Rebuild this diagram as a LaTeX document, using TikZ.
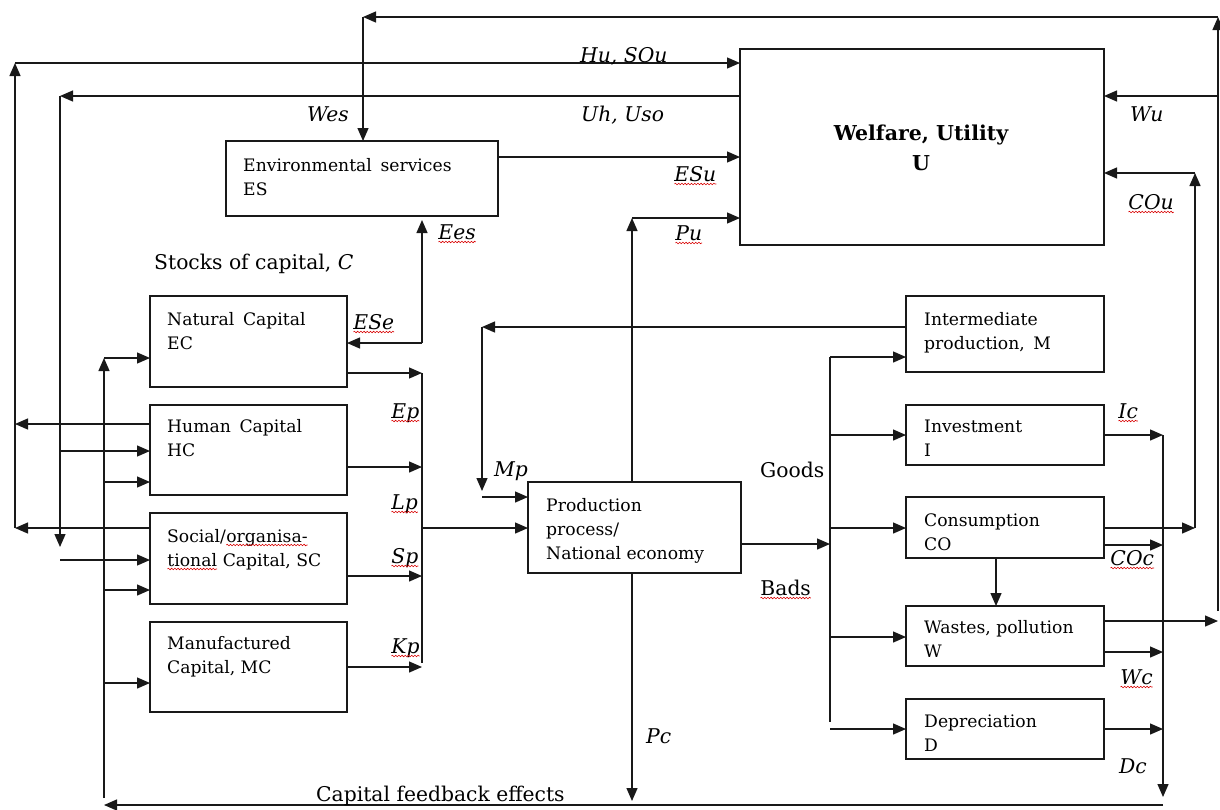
\documentclass[tikz,border=0pt]{standalone}
\usepackage{fontspec}
\setmainfont{DejaVu Serif}
\usetikzlibrary{arrows.meta,calc,decorations.pathmorphing}

% red wavy underline under a word, as left by a spell checker
\newcommand\spellwave[1]{\tikz[baseline=(sw.base)]{\node[inner sep=0pt,outer sep=0pt,anchor=base,draw=none](sw){#1};\draw[red!85!black,line width=0.55pt,decorate,decoration={snake,segment length=3.2pt,amplitude=0.8pt}]([yshift=-3pt]sw.base west)--([yshift=-3pt]sw.base east);}}

\newcommand\boxfont{\fontsize{17.2}{24}\selectfont}
\newcommand\labfont{\fontsize{20.3}{24}\selectfont}

\begin{document}
\begin{tikzpicture}[x=1pt,y=-1pt,
  box/.style={draw=black!90,line width=1.3pt,inner sep=0pt,outer sep=0pt,anchor=north west},
  ln/.style={draw=black!90,line width=1.3pt},
  ar/.style={ln,-{Triangle[length=13pt,width=11pt]}},
  boxtext/.style={inner sep=0pt,anchor=base west,align=left,font=\boxfont},
  lab/.style={inner sep=0pt,anchor=base west,font=\labfont\itshape},
  uplab/.style={inner sep=0pt,anchor=base west,font=\labfont},
]
\useasboundingbox[fill=white] (0,0) rectangle (1220,809);

% ---------- boxes ----------
\node[box,minimum width=364,minimum height=196] (U)  at (740,49)  {};
\node[box,minimum width=272,minimum height=75]  (ES) at (226,141) {};
\node[box,minimum width=197,minimum height=91]  (EC) at (150,296) {};
\node[box,minimum width=197,minimum height=90]  (HC) at (150,405) {};
\node[box,minimum width=197,minimum height=91]  (SC) at (150,513) {};
\node[box,minimum width=197,minimum height=90]  (MC) at (150,622) {};
\node[box,minimum width=213,minimum height=91]  (P)  at (528,482) {};
\node[box,minimum width=198,minimum height=76]  (M)  at (906,296) {};
\node[box,minimum width=198,minimum height=60]  (I)  at (906,405) {};
\node[box,minimum width=198,minimum height=61]  (CO) at (906,497) {};
\node[box,minimum width=198,minimum height=60]  (W)  at (906,606) {};
\node[box,minimum width=198,minimum height=60]  (D)  at (906,699) {};

% ---------- box texts (anchored on the baseline of the last line) ----------
\node[inner sep=0pt,anchor=base,align=center,font=\fontsize{20.5}{30}\selectfont\bfseries] (Ut) at (921,170) {Welfare, Utility\\U};
\node[boxtext] (ESt) at ($(ES.north west)+(17,54)$) {Environmental\enspace services\\ES};
\node[boxtext] (ECt) at ($(EC.north west)+(17,53)$) {Natural\enspace Capital\\EC};
\node[boxtext] (HCt) at ($(HC.north west)+(17,51)$) {Human\enspace Capital\\HC};
\node[boxtext] (SCt) at ($(SC.north west)+(17,53)$) {Social/\spellwave{organisa-}\\\spellwave{tional} Capital, SC};
\node[boxtext] (MCt) at ($(MC.north west)+(17,51)$) {Manufactured\\Capital, MC};
\node[boxtext] (Pt)  at ($(P.north west)+(18,77)$)  {Production\\process/\\National economy};
\node[boxtext] (Mt)  at ($(M.north west)+(18,53)$)  {Intermediate\\production,\enspace M};
\node[boxtext] (It)  at ($(I.north west)+(18,51)$)  {Investment\\I};
\node[boxtext] (COt) at ($(CO.north west)+(18,53)$) {Consumption\\CO};
\node[boxtext] (Wt)  at ($(W.north west)+(18,51)$)  {Wastes, pollution\\W};
\node[boxtext] (Dt)  at ($(D.north west)+(18,52)$)  {Depreciation\\D};

% ---------- junction points ----------
\coordinate (rtop)  at (1218,17);
\coordinate (rbot)  at (1218,611);
\coordinate (estop) at (363,17);
\coordinate (lhu)   at (15,63);
\coordinate (lhub)  at (15,528);
\coordinate (luh)   at (60,96);
\coordinate (luhb)  at (60,547);
\coordinate (pu)    at (632,218);
\coordinate (pc)    at (632,801);
\coordinate (cou)   at (1195,173);
\coordinate (coub)  at (1195,528);
\coordinate (ese)   at (422,343);
\coordinate (ctop)  at (422,373);
\coordinate (cbot)  at (422,663);
\coordinate (mp)    at (482,327);
\coordinate (mpb)   at (482,491);
\coordinate (gtop)  at (830,357);
\coordinate (gbot)  at (830,722);
\coordinate (dtop)  at (1163,435);
\coordinate (dbot)  at (1163,797);
\coordinate (fbr)   at (1163,805);
\coordinate (fbl)   at (104,805);
\coordinate (ftop)  at (104,358);
\coordinate (fbot)  at (104,798);

% ---------- welfare feedback loops ----------
\draw[ar] (rbot) -- (rtop);
\draw[ar] (rtop) -- (estop);
\draw[ar] (estop) -- (estop |- ES.north);
\draw[ar] (W.east |- 0,621) -- (rbot |- 0,621);
\draw[ar] (rtop |- 0,96) -- (U.east |- 0,96);

\draw[ar] (lhub) -- (lhu);
\draw[ar] (lhu) -- (U.west |- lhu);
\draw[ar] (HC.west |- 0,424) -- (lhu |- 0,424);
\draw[ar] (SC.west |- 0,528) -- (lhub);

\draw[ar] (U.west |- luh) -- (luh);
\draw[ar] (luh) -- (luhb);
\draw[ar] (luh |- 0,451) -- (HC.west |- 0,451);
\draw[ar] (luh |- 0,560) -- (SC.west |- 0,560);

\draw[ar] (ES.east |- 0,157) -- (U.west |- 0,157);

\draw[ar] (pu |- P.north) -- (pu);
\draw[ar] (pu) -- (U.west |- pu);
\draw[ar] (pu |- P.south) -- (pc);

\draw[ar] (coub) -- (cou);
\draw[ar] (cou) -- (U.east |- cou);
\draw[ar] (CO.east |- coub) -- (coub);

% ---------- capital stocks to production ----------
\draw[ar] (ese) -- ([yshift=-4pt]ese |- ES.south);
\draw[ar] (ese) -- (EC.east |- ese);
\draw[ar] (EC.east |- ctop) -- (ctop);
\draw[ar] (HC.east |- 0,467) -- (ctop |- 0,467);
\draw[ar] (SC.east |- 0,576) -- (ctop |- 0,576);
\draw[ar] (MC.east |- 0,667) -- (ctop |- 0,667);
\draw[ln] (ctop) -- (cbot);
\draw[ar] (ctop |- 0,528) -- (P.west |- 0,528);

\draw[ar] (M.west |- mp) -- (mp);
\draw[ar] (mp) -- (mpb);
\draw[ar] (mp |- 0,497) -- (P.west |- 0,497);

% ---------- goods and bads ----------
\draw[ar] (P.east |- 0,544) -- (gtop |- 0,544);
\draw[ln] (gtop) -- (gbot);
\draw[ar] (gtop) -- (M.west |- gtop);
\draw[ar] (gtop |- 0,435) -- (I.west |- 0,435);
\draw[ar] (gtop |- 0,528) -- (CO.west |- 0,528);
\draw[ar] (gtop |- 0,637) -- (W.west |- 0,637);
\draw[ar] (gtop |- 0,729) -- (D.west |- 0,729);
\draw[ar] (CO.south -| 996,0) -- (W.north -| 996,0);

% ---------- capital feedback ----------
\draw[ar] (I.east |- dtop) -- (dtop);
\draw[ar] (CO.east |- 0,545) -- (dtop |- 0,545);
\draw[ar] (W.east |- 0,652) -- (dtop |- 0,652);
\draw[ar] (D.east |- 0,729) -- (dtop |- 0,729);
\draw[ar] (dtop) -- (dbot);
\draw[ar] (fbr) -- (fbl);
\draw[ar] (fbot) -- (ftop);
\draw[ar] (ftop) -- (EC.west |- ftop);
\draw[ar] (ftop |- 0,482) -- (HC.west |- 0,482);
\draw[ar] (ftop |- 0,590) -- (SC.west |- 0,590);
\draw[ar] (ftop |- 0,683) -- (MC.west |- 0,683);

% ---------- flow labels ----------
\node[lab] (lHu)  at (580,62)  {Hu, SOu};
\node[lab] (lUh)  at (581,121) {Uh, Uso};
\node[lab] (lWes) at (307,121) {Wes};
\node[lab] (lWu)  at (1130,121) {Wu};
\node[lab] (lESu) at (674,181) {\spellwave{ESu}};
\node[lab] (lPu)  at (675,240) {\spellwave{Pu}};
\node[lab] (lCOu) at (1128,209) {\spellwave{COu}};
\node[lab] (lEes) at (438,239) {\spellwave{Ees}};
\node[uplab] (lstk) at (154,269) {Stocks of capital, \textit{C}};
\node[lab] (lESe) at (353,329) {\spellwave{ESe}};
\node[lab] (lEp)  at (391,418) {\spellwave{Ep}};
\node[lab] (lLp)  at (391,509) {\spellwave{Lp}};
\node[lab] (lSp)  at (391,563) {\spellwave{Sp}};
\node[lab] (lKp)  at (391,653) {\spellwave{Kp}};
\node[lab] (lMp)  at (494,476) {Mp};
\node[uplab] (lGoods) at (760,477) {Goods};
\node[uplab] (lBads)  at (760,595) {\spellwave{Bads}};
\node[lab] (lIc)  at (1118,418) {\spellwave{Ic}};
\node[lab] (lCOc) at (1110,565) {\spellwave{COc}};
\node[lab] (lWc)  at (1120,684) {\spellwave{Wc}};
\node[lab] (lDc)  at (1119,773) {Dc};
\node[lab] (lPc)  at (646,743) {Pc};
\node[uplab] (lfb) at (316,801) {Capital feedback effects};
\end{tikzpicture}
\end{document}
